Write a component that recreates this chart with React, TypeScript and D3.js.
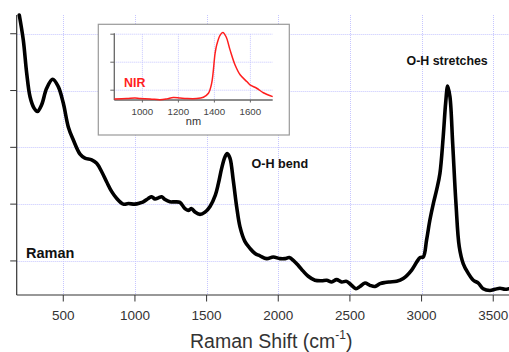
import React from "react";
import * as d3 from "d3";

const ramanShift = [193,221,245,268,296,319,349,384,426,465,500,535,570,617,651,698,733,768,803,838,873,919,954,1000,1035,1058,1093,1117,1140,1163,1187,1210,1244,1279,1314,1349,1372,1396,1419,1454,1489,1524,1561,1582,1605,1628,1644,1663,1686,1710,1733,1768,1803,1838,1872,1919,1965,2012,2047,2077,2105,2140,2174,2209,2256,2303,2338,2373,2407,2442,2477,2512,2542,2570,2605,2640,2675,2710,2745,2779,2826,2872,2931,2966,2990,3012,3035,3058,3082,3105,3128,3151,3168,3182,3198,3217,3240,3263,3291,3326,3361,3396,3430,3477,3512,3547,3582,3610];
const ramanIntensity = [5.33,4.89,4.30,3.89,3.69,3.63,3.75,4.04,4.20,4.07,3.78,3.36,3.13,2.88,2.81,2.78,2.72,2.57,2.39,2.22,2.10,2.00,2.01,2.00,2.02,2.04,2.10,2.13,2.09,2.11,2.13,2.08,2.04,2.04,2.03,1.92,1.89,1.92,1.86,1.82,1.86,1.96,2.16,2.36,2.63,2.83,2.89,2.81,2.42,1.95,1.60,1.34,1.22,1.13,1.09,1.04,1.07,1.04,1.04,1.06,1.01,0.92,0.82,0.73,0.66,0.65,0.66,0.63,0.67,0.63,0.64,0.57,0.51,0.55,0.61,0.57,0.55,0.60,0.62,0.63,0.64,0.69,0.84,0.98,1.06,1.07,1.37,1.72,2.01,2.25,2.54,3.19,3.78,4.08,3.89,3.07,2.01,1.25,0.95,0.78,0.66,0.61,0.51,0.48,0.50,0.52,0.50,0.51];

const nirWavelength = [844,913,959,987,1043,1098,1136,1172,1209,1247,1302,1339,1367,1385,1404,1413,1432,1447,1465,1487,1515,1543,1580,1598,1635,1672,1724];
const nirAbsorbance = [0.69,0.70,0.72,0.70,0.69,0.66,0.69,0.74,0.72,0.70,0.70,0.75,0.89,1.25,2.32,2.62,2.97,3.06,2.91,2.44,1.90,1.55,1.31,1.19,1.07,0.91,0.77];

const xTicks = [500,1000,1500,2000,2500,3000,3500];
const yTicks = [1,2,3,4,5];
const insetXTicks = [1000,1200,1400,1600];
const insetYTicks = [1,2,3];

const FONT = "'Liberation Sans', Arial, sans-serif";
const GRID = "#c6c6ff";

export default function App() {
  const x = d3.scaleLinear().domain([175, 3610]).range([16.7, 509]);
  const y = d3.scaleLinear().domain([0.4, 5.33]).range([295, 15]);
  const ix = d3.scaleLinear().domain([844, 1724]).range([114.3, 272.7]);
  const iy = d3.scaleLinear().domain([0.65, 3]).range([100, 34.2]);

  const ramanPts: [number, number][] = ramanShift.map((v, i) => [v, ramanIntensity[i]]);
  const nirPts: [number, number][] = nirWavelength.map((v, i) => [v, nirAbsorbance[i]]);

  const line = d3.line<[number, number]>().x(d => x(d[0])).y(d => y(d[1])).curve(d3.curveCatmullRom.alpha(0.5));
  const iline = d3.line<[number, number]>().x(d => ix(d[0])).y(d => iy(d[1])).curve(d3.curveCatmullRom.alpha(0.5));

  const [x0, x1] = x.range();
  const [yb, yt] = y.range();

  return (
    <div style={{ position: "absolute", left: 0, top: 0 }}>
      <svg width={509} height={352} style={{ display: "block", background: "#fff" }} fontFamily={FONT}>
        <defs>
          <clipPath id="plotclip">
            <rect x={x0} y={yt - 2} width={x1 - x0} height={yb - yt + 2} />
          </clipPath>
        </defs>
        {/* main grid */}
        {xTicks.map(t => (
          <line key={"gx" + t} x1={Math.round(x(t)) + 0.5} x2={Math.round(x(t)) + 0.5} y1={yt} y2={yb} stroke={GRID} strokeWidth={1} strokeDasharray="1,1" />
        ))}
        {yTicks.map(t => (
          <line key={"gy" + t} x1={x0} x2={x1} y1={Math.round(y(t)) + 0.5} y2={Math.round(y(t)) + 0.5} stroke={GRID} strokeWidth={1} strokeDasharray="1,1" />
        ))}
        {/* axes */}
        <line x1={x0} x2={x0} y1={yt} y2={yb} stroke="#333" strokeWidth={1.2} />
        <line x1={x0} x2={x1} y1={yb} y2={yb} stroke="#333" strokeWidth={1.2} />
        {yTicks.map(t => (
          <line key={"ty" + t} x1={x0 - 6.5} x2={x0} y1={y(t)} y2={y(t)} stroke="#333" strokeWidth={1} />
        ))}
        {xTicks.map(t => (
          <g key={"tx" + t}>
            <line x1={x(t)} x2={x(t)} y1={yb} y2={yb + 6.5} stroke="#333" strokeWidth={1} />
            <text x={x(t)} y={320} textAnchor="middle" fontSize={13.5} fill="#333">{t}</text>
          </g>
        ))}
        <text x={190} y={348} fontSize={19.5} fill="#333">
          Raman Shift (cm<tspan dy={-9} fontSize={12}>-1</tspan><tspan dy={9}>)</tspan>
        </text>

        {/* raman curve */}
        <path d={line(ramanPts) || ""} fill="none" stroke="#000" strokeWidth={3.6} strokeLinejoin="round" strokeLinecap="round" clipPath="url(#plotclip)" />

        {/* labels */}
        <text x={26} y={257.5} fontSize={14.5} fontWeight="bold" fill="#111">Raman</text>
        <text x={251.5} y={168} fontSize={12.6} fontWeight="bold" fill="#111">O-H bend</text>
        <text x={406.5} y={64.5} fontSize={12.4} fontWeight="bold" fill="#111">O-H stretches</text>

        {/* inset */}
        <rect x={98.3} y={24.3} width={191} height={110.7} fill="#fff" stroke="#9a9a9a" strokeWidth={1.2} />
        {insetXTicks.map(t => (
          <line key={"igx" + t} x1={ix(t)} x2={ix(t)} y1={iy(3)} y2={iy.range()[0]} stroke={GRID} strokeWidth={1} strokeDasharray="1,1" />
        ))}
        {insetYTicks.map(t => (
          <line key={"igy" + t} x1={ix.range()[0]} x2={ix.range()[1]} y1={iy(t)} y2={iy(t)} stroke={GRID} strokeWidth={1} strokeDasharray="1,1" />
        ))}
        <line x1={ix.range()[0]} x2={ix.range()[0]} y1={iy(3) - 1} y2={iy.range()[0]} stroke="#666" strokeWidth={1.3} />
        <line x1={ix.range()[0]} x2={ix.range()[1]} y1={iy.range()[0]} y2={iy.range()[0]} stroke="#666" strokeWidth={1.3} />
        {insetYTicks.map(t => (
          <line key={"ity" + t} x1={ix.range()[0] - 4} x2={ix.range()[0]} y1={iy(t)} y2={iy(t)} stroke="#666" strokeWidth={1} />
        ))}
        {insetXTicks.map(t => (
          <g key={"itx" + t}>
            <line x1={ix(t)} x2={ix(t)} y1={iy.range()[0]} y2={iy.range()[0] + 2.5} stroke="#666" strokeWidth={1} />
            <text x={ix(t)} y={114.5} textAnchor="middle" fontSize={9.7} fill="#444">{t}</text>
          </g>
        ))}
        <text x={193.5} y={125} textAnchor="middle" fontSize={11} fill="#333">nm</text>
        <path d={iline(nirPts) || ""} fill="none" stroke="#ff1e1e" strokeWidth={1.5} strokeLinejoin="round" />
        <text x={124} y={86.5} fontSize={12.4} fontWeight="bold" fill="#ff1e1e">NIR</text>
      </svg>
    </div>
  );
}
